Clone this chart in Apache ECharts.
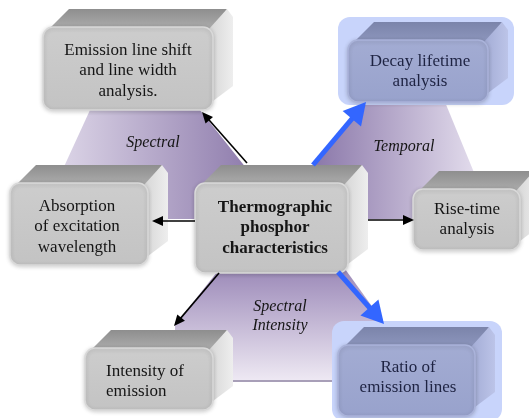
<!DOCTYPE html>
<html>
<head>
<meta charset="utf-8">
<script src="https://cdn.jsdelivr.net/npm/echarts@6/dist/echarts.min.js"></script>
<style>
  html, body { margin: 0; padding: 0; background: #fff; }
  #chart { width: 529px; height: 418px; }
</style>
</head>
<body>
<div id="chart"></div>
<script>
// box labels (0 = centre)
var nodeLabels = [
  'Thermographic\nphosphor\ncharacteristics',
  'Emission line shift\nand line width\nanalysis.',
  'Decay lifetime\nanalysis',
  'Absorption\nof excitation\nwavelength',
  'Rise-time\nanalysis',
  'Intensity of\nemission',
  'Ratio of\nemission lines'
];
var highlighted = [0, 0, 1, 0, 0, 0, 1];
var groupLabels = ['Spectral', 'Temporal', 'Spectral\nIntensity'];
// links: [from, to, highlighted]
var links = [[0, 1, 0], [0, 2, 1], [0, 3, 0], [0, 4, 0], [0, 5, 0], [0, 6, 1]];

// layout of the drawing (front face of each box: x, y, w, h)
var boxRects = [
  [195, 183, 153, 90],
  [43, 27, 170, 83],
  [348, 40, 140, 62],
  [10, 183, 138, 82],
  [413, 189, 107, 61],
  [85, 348, 128, 62],
  [338, 345, 137, 71]
];
var textPos = [
  [275, 228, 'center'], [128, 71, 'center'], [420, 72, 'center'], [77, 227, 'center'],
  [467, 220, 'center'], [106, 382, 'left'], [408, 378, 'center']
];
var linkEnds = [
  [[247, 163], [202, 112]],
  [[313, 165], [366, 102]],
  [[195, 221], [152, 221]],
  [[368, 220], [414, 220]],
  [[219, 273], [174, 326]],
  [[338, 272], [384, 324]]
];
var groupShapes = [
  { pts: [[90, 110], [200, 110], [262, 188], [262, 219], [40, 219]], dir: [0, 0, 1, 0], c: ['#e4deed', '#8a77a9'] },
  { pts: [[313, 165], [365, 102], [445, 102], [482, 192], [482, 219], [330, 219]], dir: [0, 0, 1, 0], c: ['#8a77a9', '#e6e0ef'] },
  { pts: [[225, 262], [340, 262], [384, 323], [384, 382], [175, 382], [175, 325]], dir: [0, 0, 0, 1], c: ['#9784b5', '#efeaf4'] }
];
var groupTextPos = [[153, 143], [404, 147], [280, 316]];
var halos = { 2: [338, 17, 176, 88], 6: [332, 321, 170, 100] };

var DX = 20, DY = -18;
var LG = echarts.graphic.LinearGradient;
var FONT = '"Liberation Serif", "Times New Roman", serif';

function boxShapes(i) {
  var r = boxRects[i], x = r[0], y = r[1], w = r[2], h = r[3];
  var blue = highlighted[i];
  var out = [];
  out.push({
    type: 'polygon',
    shape: { points: [[x + 6, y + 2], [x + 6 + DX, y + DY], [x + w + DX - 6, y + DY], [x + w, y + 2]] },
    style: { fill: blue ? new LG(0, 0, 0, 1, [{ offset: 0, color: '#7b84aa' }, { offset: 1, color: '#8d96bd' }])
                        : new LG(0, 0, 0, 1, [{ offset: 0, color: '#8e8e8e' }, { offset: 1, color: '#adadad' }]) }
  });
  out.push({
    type: 'polygon',
    shape: { points: [[x + w - 4, y + 2], [x + w + DX - 6, y + DY], [x + w + DX, y + DY + 8], [x + w + DX, y + h + DY - 6], [x + w - 4, y + h - 6]] },
    style: { fill: blue ? new LG(0, 0, 1, 0, [{ offset: 0, color: '#a3acd5' }, { offset: 1, color: '#bcc4e8' }])
                        : new LG(0, 0, 1, 0, [{ offset: 0, color: '#d6d6d6' }, { offset: 1, color: '#eeeeee' }]) }
  });
  out.push({
    type: 'rect',
    shape: { x: x, y: y, width: w, height: h, r: 10 },
    style: {
      fill: blue ? new LG(0, 0, 0, 1, [{ offset: 0, color: '#a3acd3' }, { offset: 1, color: '#98a2cc' }])
                 : new LG(0, 0, 0, 1, [{ offset: 0, color: '#cdcdcd' }, { offset: 1, color: '#c3c3c3' }]),
      stroke: blue ? '#aab3da' : '#d9d9d9',
      lineWidth: 1.5,
      shadowBlur: 4,
      shadowOffsetY: 1,
      shadowColor: 'rgba(0,0,0,0.18)'
    }
  });
  out.push({
    type: 'text',
    style: {
      text: nodeLabels[i],
      x: textPos[i][0], y: textPos[i][1],
      align: textPos[i][2], verticalAlign: 'middle',
      font: (i === 0 ? 'bold ' : '') + '17px ' + FONT,
      lineHeight: i === 2 || i === 4 || i === 5 || i === 6 ? 20 : 20.5,
      fill: blue ? '#1e2342' : '#151515'
    }
  });
  return out;
}

function arrow(k) {
  var a = linkEnds[k][0], b = linkEnds[k][1];
  var blue = links[k][2];
  var col = blue ? '#3366ff' : '#000000';
  var lw = blue ? 5 : 1.6;
  var hl = blue ? 22 : 11, hw = blue ? 12 : 5;
  var dx = b[0] - a[0], dy = b[1] - a[1];
  var len = Math.sqrt(dx * dx + dy * dy);
  var ux = dx / len, uy = dy / len, px = -uy, py = ux;
  var bx = b[0] - ux * hl, by = b[1] - uy * hl;
  return [
    { type: 'line', shape: { x1: a[0], y1: a[1], x2: bx + ux * 2, y2: by + uy * 2 }, style: { stroke: col, lineWidth: lw } },
    { type: 'polygon', shape: { points: [[b[0], b[1]], [bx + px * hw, by + py * hw], [bx - px * hw, by - py * hw]] }, style: { fill: col } }
  ];
}

var elements = [];
groupShapes.forEach(function (g) {
  elements.push({
    type: 'polygon',
    shape: { points: g.pts },
    style: { fill: new LG(g.dir[0], g.dir[1], g.dir[2], g.dir[3], [{ offset: 0, color: g.c[0] }, { offset: 1, color: g.c[1] }]) }
  });
});
elements.push({ type: 'line', shape: { x1: 213, y1: 381, x2: 340, y2: 381 }, style: { stroke: '#a89fb8', lineWidth: 2 } });
groupLabels.forEach(function (t, i) {
  elements.push({
    type: 'text',
    style: {
      text: t, x: groupTextPos[i][0], y: groupTextPos[i][1],
      align: 'center', verticalAlign: 'middle',
      font: 'italic 16px ' + FONT,
      lineHeight: 19, fill: '#151515'
    }
  });
});
Object.keys(halos).forEach(function (k) {
  var h = halos[k];
  elements.push({ type: 'rect', shape: { x: h[0], y: h[1], width: h[2], height: h[3], r: 12 }, style: { fill: '#c8d4fb' } });
});
[1, 2, 3, 4, 5, 6, 0].forEach(function (i) { elements = elements.concat(boxShapes(i)); });
links.forEach(function (l, k) { elements = elements.concat(arrow(k)); });

var chart = echarts.init(document.getElementById('chart'));
chart.setOption({
  backgroundColor: '#ffffff',
  animation: false,
  graphic: { elements: elements }
});
</script>
</body>
</html>
